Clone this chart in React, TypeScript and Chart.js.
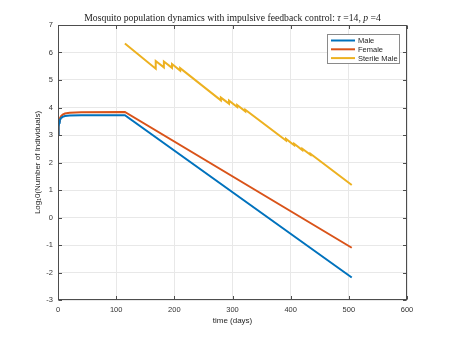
import React, { useEffect, useRef } from "react";
import { Chart, registerables } from "chart.js";
Chart.register(...registerables);

const TITLE_PARTS: [string, boolean][] = [
  ["Mosquito population dynamics with impulsive feedback control: ", false],
  ["τ", true],
  [" =14, ", false],
  ["p", true],
  [" =4", false],
];
const X_LABEL = "time (days)";
const Y_LABEL = "Log₁0(Number of Individuals)";
const X_MIN = 0, X_MAX = 600, X_STEP = 100;
const Y_MIN = -3, Y_MAX = 7, Y_STEP = 1;

const SERIES_NAMES = ["Male", "Female", "Sterile Male"];
const SERIES_COLORS = ["#0072BD", "#D95319", "#EDB120"];

const mfTimes = [0, 1, 2, 3, 5, 8, 12, 20, 40, 115, 505];
const maleLog = [3.0, 3.3, 3.45, 3.53, 3.61, 3.66, 3.69, 3.71, 3.72, 3.72, -2.18];
const femaleLog = [3.0, 3.35, 3.5, 3.6, 3.68, 3.74, 3.78, 3.81, 3.83, 3.84, -1.1];

const sterileTimes = [115, 168, 168, 182, 182, 196, 196, 210, 210, 280, 280, 294, 294, 308, 308, 322, 322, 392, 392, 406, 406, 420, 420, 434, 434, 505];
const sterileLog = [6.33, 5.41, 5.69, 5.46, 5.67, 5.44, 5.58, 5.34, 5.43, 4.26, 4.36, 4.14, 4.25, 4.02, 4.09, 3.86, 3.92, 2.8, 2.86, 2.63, 2.68, 2.45, 2.5, 2.28, 2.32, 1.18];

const toPts = (xs: number[], ys: number[]) => xs.map((x, i) => ({ x, y: ys[i] }));

const SANS = "'Liberation Sans', Arial, sans-serif";
const SERIF = "'Liberation Serif', 'Times New Roman', serif";

const framePlugin = {
  id: "matlabFrame",
  afterDatasetsDraw(chart: any) {
    const { ctx, chartArea: a, scales } = chart;
    ctx.save();
    ctx.strokeStyle = "#4d4d4d";
    ctx.lineWidth = 1;
    const L = Math.round(a.left) + 0.5, R = Math.round(a.right) - 0.5;
    const T = Math.round(a.top) + 0.5, B = Math.round(a.bottom) - 0.5;
    ctx.strokeRect(L, T, R - L, B - T);
    const tl = 3.5;
    ctx.beginPath();
    scales.x.ticks.forEach((t: any) => {
      const px = Math.round(scales.x.getPixelForValue(t.value)) + 0.5;
      ctx.moveTo(px, B); ctx.lineTo(px, B - tl);
      ctx.moveTo(px, T); ctx.lineTo(px, T + tl);
    });
    scales.y.ticks.forEach((t: any) => {
      const py = Math.round(scales.y.getPixelForValue(t.value)) + 0.5;
      ctx.moveTo(L, py); ctx.lineTo(L + tl, py);
      ctx.moveTo(R, py); ctx.lineTo(R - tl, py);
    });
    ctx.stroke();

    // legend
    const lx = 327.5, ly = 34.5, lw = 72, lh = 29;
    ctx.fillStyle = "#ffffff";
    ctx.fillRect(lx, ly, lw, lh);
    ctx.strokeStyle = "#8a8a8a";
    ctx.strokeRect(lx, ly, lw, lh);
    ctx.font = `7.5px ${SANS}`;
    ctx.textBaseline = "middle";
    chart.data.datasets.forEach((ds: any, i: number) => {
      const y = 40.5 + i * 8.8;
      ctx.strokeStyle = ds.borderColor;
      ctx.lineWidth = 2;
      ctx.beginPath();
      ctx.moveTo(331, y); ctx.lineTo(355, y);
      ctx.stroke();
      ctx.fillStyle = "#262626";
      ctx.fillText(ds.label, 358, y + 0.5);
    });

    // title
    ctx.fillStyle = "#1a1a1a";
    ctx.textBaseline = "alphabetic";
    const fonts = TITLE_PARTS.map(([, it]) => `${it ? "italic " : ""}9.7px ${SERIF}`);
    let total = 0;
    TITLE_PARTS.forEach(([s], i) => { ctx.font = fonts[i]; total += ctx.measureText(s).width; });
    let x = (a.left + a.right) / 2 - total / 2;
    TITLE_PARTS.forEach(([s], i) => {
      ctx.font = fonts[i];
      ctx.fillText(s, x, 21);
      x += ctx.measureText(s).width;
    });
    ctx.restore();
  },
};

export default function App() {
  const ref = useRef<HTMLCanvasElement>(null);
  useEffect(() => {
    if (!ref.current) return;
    const series = [toPts(mfTimes, maleLog), toPts(mfTimes, femaleLog), toPts(sterileTimes, sterileLog)];
    const chart = new Chart(ref.current, {
      type: "line",
      data: {
        datasets: series.map((d, i) => ({
          label: SERIES_NAMES[i],
          data: d,
          borderColor: SERIES_COLORS[i],
          backgroundColor: SERIES_COLORS[i],
          borderWidth: 2,
          pointRadius: 0,
          tension: 0,
          fill: false,
        })),
      },
      options: {
        animation: false,
        responsive: true,
        maintainAspectRatio: false,
        layout: { padding: { left: 0, top: 25, right: 43, bottom: 0 } },
        plugins: { legend: { display: false }, tooltip: { enabled: false }, title: { display: false } },
        scales: {
          x: {
            type: "linear",
            min: X_MIN, max: X_MAX,
            ticks: { stepSize: X_STEP, padding: 5, color: "#333", font: { family: SANS, size: 7.5 }, maxRotation: 0 },
            grid: { color: "#e8e8e8", drawTicks: false },
            border: { display: false },
            title: { display: true, text: X_LABEL, color: "#262626", font: { family: SANS, size: 8 }, padding: { top: 0, bottom: 12 } },
            afterFit: (s: any) => { s.height = 38; },
          },
          y: {
            type: "linear",
            min: Y_MIN, max: Y_MAX,
            ticks: { stepSize: Y_STEP, padding: 5, color: "#333", font: { family: SANS, size: 7.5 } },
            grid: { color: "#e8e8e8", drawTicks: false },
            border: { display: false },
            title: { display: true, text: Y_LABEL, color: "#262626", font: { family: SANS, size: 8 }, padding: { top: 33, bottom: 0 } },
            afterFit: (s: any) => { s.width = 58; },
          },
        },
      },
      plugins: [framePlugin],
    });
    return () => chart.destroy();
  }, []);
  return (
    <div style={{ position: "fixed", left: 0, top: 0, width: 450, height: 338, background: "#fff" }}>
      <canvas ref={ref} />
    </div>
  );
}
